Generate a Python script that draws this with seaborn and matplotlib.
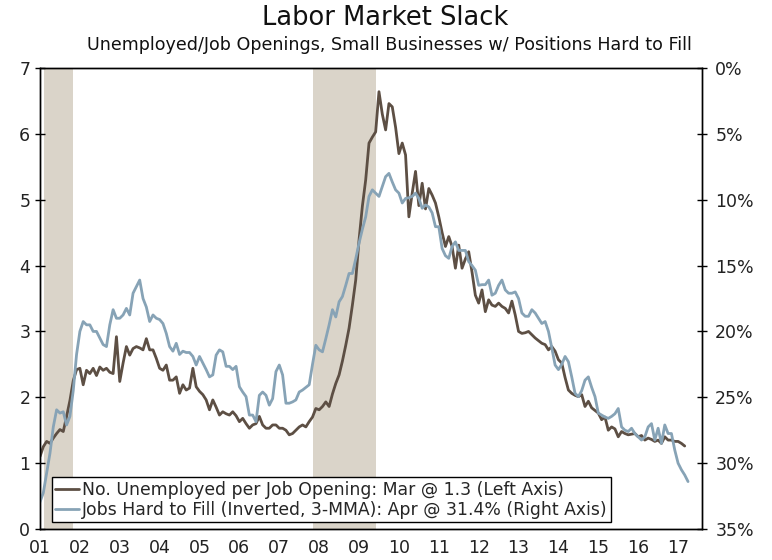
import numpy as np
import pandas as pd
import matplotlib
matplotlib.use("Agg")
import matplotlib.pyplot as plt
import seaborn as sns

# ---- data ----
start_year = 2001
# No. unemployed per job opening (monthly, Jan 2001 - Mar 2017)
unemployed_per_opening = [
    1.10, 1.25, 1.33, 1.30, 1.38, 1.45, 1.51, 1.48, 1.71, 1.95, 2.25, 2.42,
    2.44, 2.19, 2.41, 2.36, 2.44, 2.33, 2.46, 2.41, 2.44, 2.38, 2.36, 2.92,
    2.24, 2.52, 2.77, 2.64, 2.74, 2.77, 2.75, 2.72, 2.89, 2.72, 2.72, 2.59,
    2.44, 2.41, 2.49, 2.26, 2.26, 2.31, 2.06, 2.19, 2.11, 2.14, 2.44, 2.16,
    2.09, 2.04, 1.96, 1.81, 1.96, 1.85, 1.73, 1.78, 1.75, 1.73, 1.78, 1.72,
    1.63, 1.68, 1.60, 1.53, 1.58, 1.60, 1.71, 1.58, 1.53, 1.53, 1.58, 1.58,
    1.53, 1.53, 1.50, 1.43, 1.45, 1.50, 1.55, 1.58, 1.55, 1.63, 1.70, 1.83,
    1.81, 1.86, 1.93, 1.86, 2.05, 2.21, 2.34, 2.55, 2.79, 3.05, 3.40, 3.78,
    4.39, 4.90, 5.30, 5.86, 5.95, 6.03, 6.64, 6.30, 6.06, 6.46, 6.41, 6.10,
    5.70, 5.86, 5.68, 4.74, 5.10, 5.43, 4.91, 5.25, 4.86, 5.17, 5.07, 4.95,
    4.74, 4.50, 4.29, 4.44, 4.29, 3.96, 4.31, 3.96, 4.10, 4.21, 3.90, 3.55,
    3.43, 3.63, 3.30, 3.48, 3.40, 3.38, 3.43, 3.38, 3.35, 3.28, 3.46, 3.25,
    3.00, 2.97, 2.98, 3.00, 2.95, 2.90, 2.86, 2.82, 2.80, 2.72, 2.77, 2.70,
    2.57, 2.52, 2.30, 2.11, 2.06, 2.03, 2.01, 2.04, 1.86, 1.94, 1.84, 1.80,
    1.76, 1.66, 1.70, 1.50, 1.55, 1.52, 1.40, 1.48, 1.45, 1.43, 1.44, 1.45,
    1.40, 1.42, 1.35, 1.38, 1.36, 1.33, 1.35, 1.30, 1.40, 1.35, 1.35, 1.33,
    1.33, 1.30, 1.26,
]
# Small businesses with jobs hard to fill, % (3-MMA), Jan 2001 - Apr 2017
hard_to_fill_pct = [
    32.95, 32.25, 30.75, 29.25, 27.25, 25.95, 26.2, 26.1, 27.1, 26.45, 24.5, 21.75,
    20.0, 19.25, 19.5, 19.5, 20.0, 20.0, 20.5, 21.0, 21.15, 19.5, 18.35, 19.0,
    19.0, 18.75, 18.25, 18.75, 17.1, 16.6, 16.1, 17.5, 18.15, 19.25, 18.75, 19.0,
    19.1, 19.4, 20.15, 21.15, 21.5, 20.9, 21.75, 21.5, 21.6, 21.6, 21.9, 22.55,
    21.9, 22.4, 22.9, 23.45, 23.3, 21.8, 21.4, 21.55, 22.65, 22.65, 22.9, 22.65,
    24.2, 24.6, 24.95, 26.35, 26.35, 26.85, 24.85, 24.6, 24.85, 25.6, 25.1, 23.05,
    22.55, 23.3, 25.45, 25.45, 25.35, 25.2, 24.6, 24.45, 24.25, 24.05, 22.5, 21.05,
    21.4, 21.55, 20.55, 19.5, 18.35, 18.9, 17.75, 17.35, 16.5, 15.6, 15.6, 14.5,
    13.3, 12.25, 11.3, 9.75, 9.25, 9.5, 9.75, 9.0, 8.25, 8.0, 8.65, 9.25,
    9.5, 10.25, 9.9, 9.85, 9.75, 9.5, 9.9, 10.65, 10.4, 10.55, 11.0, 12.05,
    12.05, 13.7, 14.25, 14.45, 13.55, 13.2, 13.85, 13.85, 13.85, 14.7, 15.0, 15.35,
    16.5, 16.45, 16.45, 16.1, 17.25, 17.1, 16.5, 16.1, 16.85, 17.1, 17.1, 17.0,
    17.5, 18.6, 18.85, 18.85, 18.35, 18.6, 19.0, 19.4, 19.25, 20.0, 21.25, 22.55,
    22.9, 22.5, 21.9, 22.3, 23.45, 24.7, 24.95, 24.5, 23.7, 23.45, 24.25, 24.95,
    26.2, 26.35, 26.5, 26.6, 26.45, 26.25, 25.85, 27.25, 27.5, 27.6, 27.35, 27.75,
    28.0, 28.25, 28.0, 27.25, 27.0, 28.25, 27.35, 28.5, 27.1, 27.75, 27.75, 29.0,
    30.0, 30.5, 30.9, 31.4,
]
recession_start = [2001.10, 2007.85]
recession_end = [2001.83, 2009.42]
tick_years = list(range(2001, 2018))
tick_labels = ["01", "02", "03", "04", "05", "06", "07", "08", "09",
               "10", "11", "12", "13", "14", "15", "16", "17"]
left_ticks = [0, 1, 2, 3, 4, 5, 6, 7]
right_ticks = [0, 5, 10, 15, 20, 25, 30, 35]

label_brown = "No. Unemployed per Job Opening: Mar @ 1.3 (Left Axis)"
label_blue = "Jobs Hard to Fill (Inverted, 3-MMA): Apr @ 31.4% (Right Axis)"

df_u = pd.DataFrame({
    "t": [start_year + i / 12 for i in range(len(unemployed_per_opening))],
    "v": unemployed_per_opening,
})
df_h = pd.DataFrame({
    "t": [start_year + i / 12 for i in range(len(hard_to_fill_pct))],
    "v": hard_to_fill_pct,
})

# ---- style ----
sns.set_style("white")
plt.rcParams["font.family"] = ["DejaVu Sans"]
BROWN = "#5d4f44"
BLUE = "#87a3b6"
SHADE = "#dad4c9"

fig = plt.figure(figsize=(7.72, 5.6), dpi=100)
ax = fig.add_axes([40 / 772, 1 - 529 / 560, (702 - 40) / 772, (529 - 68) / 560])
ax2 = ax.twinx()

for s, e in zip(recession_start, recession_end):
    ax.axvspan(s, e, color=SHADE, lw=0, zorder=0)

sns.lineplot(data=df_u, x="t", y="v", ax=ax, color=BROWN, lw=2.0, label=label_brown, legend=False)
sns.lineplot(data=df_h, x="t", y="v", ax=ax2, color=BLUE, lw=2.0, label=label_blue, legend=False)

ax.set_xlim(2001, 2017.6)
ax.set_ylim(0, 7)
ax2.set_ylim(35, 0)
ax.set_xticks(tick_years)
ax.set_xticklabels(tick_labels)
ax.set_yticks(left_ticks)
ax2.set_yticks(right_ticks)
ax2.set_yticklabels([f"{v}%" for v in right_ticks])
ax.set_xlabel("")
ax.set_ylabel("")
ax2.set_xlabel("")
ax2.set_ylabel("")

for a in (ax, ax2):
    for sp in a.spines.values():
        sp.set_visible(True)
        sp.set_color("black")
        sp.set_linewidth(1.0)
ax.tick_params(axis="both", direction="inout", length=7, width=1, colors="black",
               labelsize=12.5, labelcolor="#222222")
ax.tick_params(axis="x", pad=4)
ax2.tick_params(axis="y", direction="inout", length=7, width=1, colors="black",
                labelsize=12.5, labelcolor="#222222", pad=6)
ax.tick_params(axis="x", top=False)

h1, l1 = ax.get_legend_handles_labels()
h2, l2 = ax2.get_legend_handles_labels()
leg = ax2.legend(h1 + h2, l1 + l2, loc="lower left", bbox_to_anchor=(0.018, 0.015),
                 fontsize=12.4, frameon=True, fancybox=False, framealpha=1,
                 edgecolor="black", handlelength=1.4, handletextpad=0.15,
                 borderpad=0.2, labelspacing=0.1, borderaxespad=0)
leg.get_frame().set_linewidth(1.0)

fig.text(0.499, 1 - 18 / 560, "Labor Market Slack", ha="center", va="center",
         fontsize=18.5, color="#111111")
fig.text(0.505, 1 - 45 / 560,
         "Unemployed/Job Openings, Small Businesses w/ Positions Hard to Fill",
         ha="center", va="center", fontsize=12.6, color="#111111")

fig.savefig("out.png", dpi=100)
